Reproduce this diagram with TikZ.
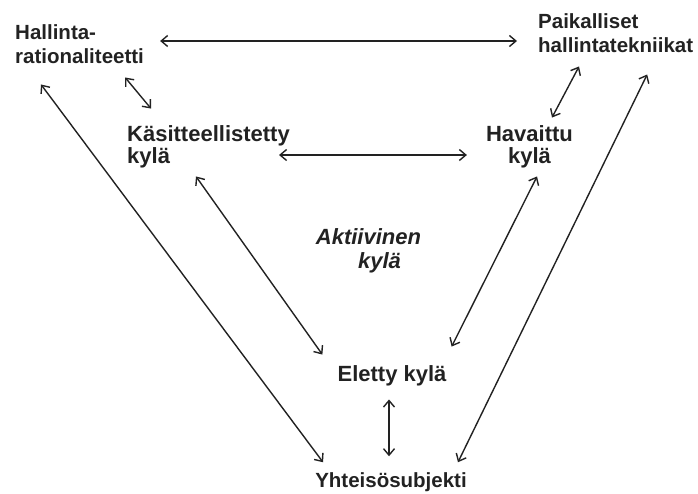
\documentclass[tikz,border=0pt]{standalone}
\usepackage{fontspec}
\setmainfont{Liberation Sans}
\usetikzlibrary{positioning,arrows.meta}
\definecolor{ink}{HTML}{222222}

\begin{document}
\begin{tikzpicture}[x=1pt,y=-1pt,
        lbl/.style={inner sep=0pt, text=ink, font=\bfseries\fontsize{20.5}{23.5}\selectfont},
        big/.style={inner sep=0pt, text=ink, font=\bfseries\fontsize{22}{22}\selectfont},
        link/.style={<->, draw=ink, line width=1.4pt},
        >={Straight Barb[length=6.5pt,width=11pt]}]
        \useasboundingbox (0,0) rectangle (698,493);
        \node[lbl, align=left, anchor=west] (hall) at (15,44) {Hallinta-\\rationaliteetti};
        \node[lbl, align=left, anchor=west] (paik) at (538,33) {Paikalliset\\hallintatekniikat};
        \node[big, align=left, anchor=west] (kas) at (127,147) {Käsitteellistetty\\kylä};
        \node[big, align=center] (hav) at (529.5,147) {Havaittu\\kylä};
        \node[big, align=center, font=\bfseries\itshape\fontsize{22}{23.5}\selectfont] (akt) at (368.5,251) {Aktiivinen\\\hspace*{1em}kylä};
        \node[big, anchor=base] (el) at (392,381.7) {Eletty kylä};
        \node[lbl, anchor=base] (yht) at (391,487.3) {Yhteisösubjekti};
        \draw[link] ([xshift=16pt,yshift=3pt]hall.east) -- ([xshift=-21pt,yshift=-8pt]paik.west);
        \draw[link] ([xshift=-19pt,yshift=-14pt]hall.south east) -- ([xshift=24pt,yshift=17pt]kas.north west);
        \draw[link] ([xshift=-11pt,yshift=-8pt]kas.east) -- ([xshift=-19pt,yshift=-8pt]hav.west);
        \draw[link] ([xshift=41pt,yshift=-14pt]paik.south west) -- ([xshift=22.5pt,yshift=8pt]hav.north);
        \draw[link] ([xshift=26pt,yshift=-21pt]hall.south west) -- ([xshift=8pt,yshift=10pt]yht.north west);
        \draw[link] ([xshift=69pt,yshift=-8pt]kas.south west) -- ([xshift=-15pt,yshift=11pt]el.north west);
        \draw[link] ([xshift=7.5pt,yshift=-8pt]hav.south) -- ([xshift=5pt,yshift=19pt]el.north east);
        \draw[link] ([xshift=31.5pt,yshift=-22pt]paik.south) -- ([xshift=-9pt,yshift=10pt]yht.north east);
        \draw[link] ([xshift=-3pt,yshift=-13pt]el.south) -- ([xshift=-2pt,yshift=16pt]yht.north);
    \end{tikzpicture}
\end{document}
